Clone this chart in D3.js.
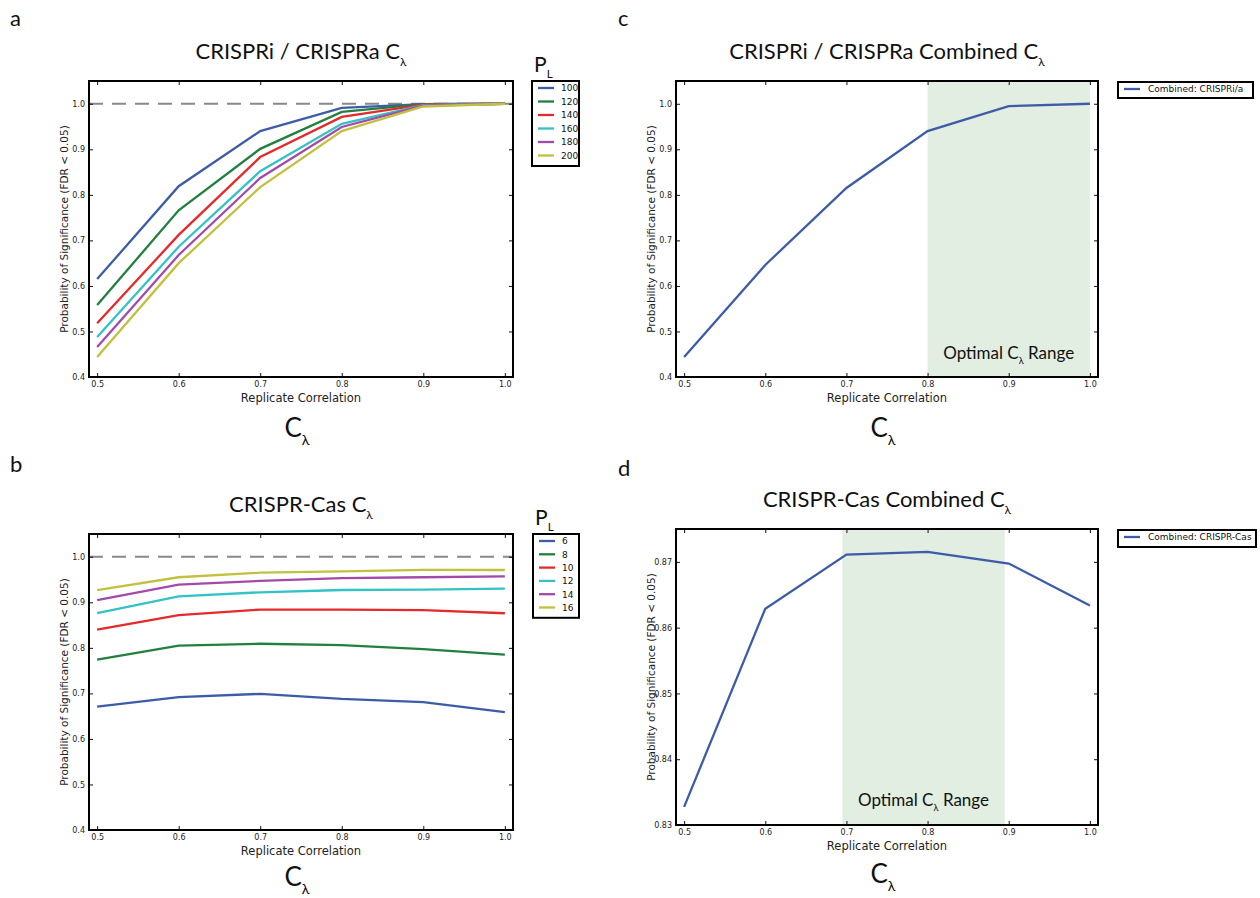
<!DOCTYPE html>
<html>
<head>
<meta charset="utf-8">
<script src="https://cdn.jsdelivr.net/npm/d3@7"></script>
<style>
  body { margin: 0; background: #fff; }
  svg { display: block; }
  .tick text { font-family: "DejaVu Sans", sans-serif; font-size: 8px; fill: #222; }
  .tick line { stroke: #111; stroke-width: 1; }
</style>
</head>
<body>
<script>
// replicate correlation values on the x axis
var corr = [0.5, 0.6, 0.7, 0.8, 0.9, 1.0];

// panel a: CRISPRi / CRISPRa, one curve per library size P_L
var plIA = ["100", "120", "140", "160", "180", "200"];
var probIA = [
    [0.615, 0.819, 0.940, 0.991, 0.999, 1.000],
    [0.558, 0.766, 0.901, 0.982, 0.999, 1.000],
    [0.518, 0.712, 0.883, 0.971, 0.998, 1.000],
    [0.488, 0.686, 0.852, 0.956, 0.997, 1.000],
    [0.466, 0.668, 0.837, 0.949, 0.996, 1.000],
    [0.444, 0.650, 0.817, 0.940, 0.994, 1.000]
];

// panel b: CRISPR-Cas
var plCas = ["6", "8", "10", "12", "14", "16"];
var probCas = [
    [0.671, 0.692, 0.699, 0.688, 0.681, 0.659],
    [0.774, 0.805, 0.809, 0.806, 0.797, 0.785],
    [0.840, 0.872, 0.884, 0.884, 0.883, 0.876],
    [0.876, 0.913, 0.922, 0.927, 0.928, 0.930],
    [0.905, 0.939, 0.947, 0.953, 0.955, 0.957],
    [0.927, 0.955, 0.965, 0.968, 0.971, 0.971]
];

// panels c and d: combined curves
var combinedIA = [0.444, 0.646, 0.815, 0.940, 0.995, 1.000];
var combinedCas = [0.83275, 0.86288, 0.87112, 0.87153, 0.86975, 0.86338];

var ticksX = [0.5, 0.6, 0.7, 0.8, 0.9, 1.0];
var ticksY = [0.4, 0.5, 0.6, 0.7, 0.8, 0.9, 1.0];
var ticksYCas = [0.83, 0.84, 0.85, 0.86, 0.87];

var optimalIA = [0.8, 1.0];
var optimalCas = [0.695, 0.895];

var colors = ["#3d5ca8", "#22803f", "#e52a2b", "#35c2c4", "#a34aa9", "#c1c13f"];
var lineBlue = "#3d5ca8";
var titleFont = "Lato, 'Open Sans', sans-serif";
var plotFont = "'DejaVu Sans', sans-serif";

var svg = d3.select("body").append("svg")
    .attr("width", 1260)
    .attr("height", 898);

function addSubText(g, x, y, main, sub, size, anchor, after) {
    var t = g.append("text")
        .attr("x", x).attr("y", y)
        .attr("text-anchor", anchor || "middle")
        .style("font-family", titleFont)
        .style("font-size", size + "px")
        .style("fill", "#111");
    t.append("tspan").text(main);
    t.append("tspan").attr("dy", size * 0.3).style("font-size", (size * 0.55) + "px").text(sub);
    if (after) {
        t.append("tspan").attr("dy", -size * 0.3).text(after);
    }
    return t;
}

function drawPanel(p) {
    var x = d3.scaleLinear().domain([0.49, 1.01]).range([p.left, p.right]);
    var y = d3.scaleLinear().domain(p.yDomain).range([p.bottom, p.top]);
    var g = svg.append("g");

    if (p.shade) {
        g.append("rect")
            .attr("x", x(p.shade[0]))
            .attr("y", p.top)
            .attr("width", x(p.shade[1]) - x(p.shade[0]))
            .attr("height", p.bottom - p.top)
            .style("fill", "#e1eee1");
        addSubText(g, x(p.shadeText[0]), y(p.shadeText[1]), "Optimal C", "λ", 17, "middle", " Range");
    }

    if (p.dashed) {
        g.append("line")
            .attr("x1", p.left).attr("x2", p.right)
            .attr("y1", y(1.0)).attr("y2", y(1.0))
            .style("stroke", "#888")
            .style("stroke-width", 2.2)
            .style("stroke-dasharray", "14,9");
    }

    var line = d3.line()
        .x(function (d, i) { return x(corr[i]); })
        .y(function (d) { return y(d); });

    p.series.forEach(function (s, i) {
        g.append("path")
            .datum(s)
            .attr("d", line)
            .style("fill", "none")
            .style("stroke", p.colors[i])
            .style("stroke-width", 2.3);
    });

    // ticks inward on all four sides
    g.append("g")
        .attr("transform", "translate(0," + p.bottom + ")")
        .call(d3.axisBottom(x).tickValues(ticksX).tickSize(-4).tickPadding(4).tickFormat(d3.format(".1f")))
        .call(function (a) { a.select(".domain").remove(); });
    g.append("g")
        .attr("transform", "translate(0," + p.top + ")")
        .call(d3.axisTop(x).tickValues(ticksX).tickSize(-4).tickFormat(""))
        .call(function (a) { a.select(".domain").remove(); });
    g.append("g")
        .attr("transform", "translate(" + p.left + ",0)")
        .call(d3.axisLeft(y).tickValues(p.yTicks).tickSize(-4).tickPadding(4).tickFormat(d3.format(p.yFmt)))
        .call(function (a) { a.select(".domain").remove(); });
    g.append("g")
        .attr("transform", "translate(" + p.right + ",0)")
        .call(d3.axisRight(y).tickValues(p.yTicks).tickSize(-4).tickFormat(""))
        .call(function (a) { a.select(".domain").remove(); });

    g.append("rect")
        .attr("x", p.left).attr("y", p.top)
        .attr("width", p.right - p.left).attr("height", p.bottom - p.top)
        .style("fill", "none")
        .style("stroke", "#000")
        .style("stroke-width", 2);

    var cx = (p.left + p.right) / 2;
    g.append("text")
        .attr("x", cx).attr("y", p.bottom + 25)
        .attr("text-anchor", "middle")
        .style("font-family", plotFont)
        .style("font-size", "11.5px")
        .style("fill", "#222")
        .text("Replicate Correlation");

    g.append("text")
        .attr("transform", "translate(" + (p.left - 21) + "," + ((p.top + p.bottom) / 2) + ") rotate(-90)")
        .attr("text-anchor", "middle")
        .style("font-family", plotFont)
        .style("font-size", "10.5px")
        .style("fill", "#222")
        .text("Probability of Significance (FDR < 0.05)");

    addSubText(g, cx - 4, p.bottom + p.cGap, "C", "λ", 26);
    addSubText(g, cx, p.top - 22, p.title, "λ", 22);

    g.append("text")
        .attr("x", p.letterX).attr("y", p.letterY)
        .style("font-family", titleFont)
        .style("font-size", "22px")
        .style("fill", "#111")
        .text(p.letter);

    // legend
    var L = p.legend;
    var lg = g.append("g");
    if (L.title) {
        addSubText(lg, L.x + 2, L.y - 9, "P", "L", 21, "start");
    }
    var rowH = L.rowH;
    var boxH = L.names.length * rowH + 4;
    lg.append("rect")
        .attr("x", L.x).attr("y", L.y)
        .attr("width", L.w).attr("height", boxH)
        .style("fill", "#fff")
        .style("stroke", "#000")
        .style("stroke-width", 2);
    L.names.forEach(function (n, i) {
        var yy = L.y + 7 + i * rowH;
        lg.append("line")
            .attr("x1", L.x + 6).attr("x2", L.x + 22)
            .attr("y1", yy).attr("y2", yy)
            .style("stroke", p.colors[i])
            .style("stroke-width", 2.3);
        lg.append("text")
            .attr("x", L.x + (L.title ? 29 : 30)).attr("y", yy + 3.3)
            .style("font-family", plotFont)
            .style("font-size", "9px")
            .style("fill", "#111")
            .text(n);
    });
}

drawPanel({
    left: 89, right: 513, top: 81, bottom: 377, cGap: 60,
    yDomain: [0.4, 1.05], yTicks: ticksY, yFmt: ".1f",
    series: probIA, colors: colors, dashed: true,
    title: "CRISPRi / CRISPRa C", letter: "a", letterX: 10, letterY: 26,
    legend: { x: 532, y: 81, w: 47, rowH: 13.5, names: plIA, title: true }
});

drawPanel({
    left: 89, right: 513, top: 534, bottom: 830, cGap: 56,
    yDomain: [0.4, 1.05], yTicks: ticksY, yFmt: ".1f",
    series: probCas, colors: colors, dashed: true,
    title: "CRISPR-Cas C", letter: "b", letterX: 10, letterY: 472,
    legend: { x: 533, y: 534, w: 46, rowH: 13.3, names: plCas, title: true }
});

drawPanel({
    left: 676, right: 1098, top: 81, bottom: 377, cGap: 60,
    yDomain: [0.4, 1.05], yTicks: ticksY, yFmt: ".1f",
    series: [combinedIA], colors: [lineBlue], dashed: false,
    shade: optimalIA, shadeText: [0.9, 0.44],
    title: "CRISPRi / CRISPRa Combined C", letter: "c", letterX: 618, letterY: 26,
    legend: { x: 1118, y: 82, w: 135, rowH: 12, names: ["Combined: CRISPRi/a"], title: false }
});

drawPanel({
    left: 676, right: 1098, top: 529, bottom: 825, cGap: 58,
    yDomain: [0.83, 0.875], yTicks: ticksYCas, yFmt: ".2f",
    series: [combinedCas], colors: [lineBlue], dashed: false,
    shade: optimalCas, shadeText: [0.795, 0.8329],
    title: "CRISPR-Cas Combined C", letter: "d", letterX: 618, letterY: 476,
    legend: { x: 1118, y: 530, w: 138, rowH: 13, names: ["Combined: CRISPR-Cas"], title: false }
});
</script>
</body>
</html>
